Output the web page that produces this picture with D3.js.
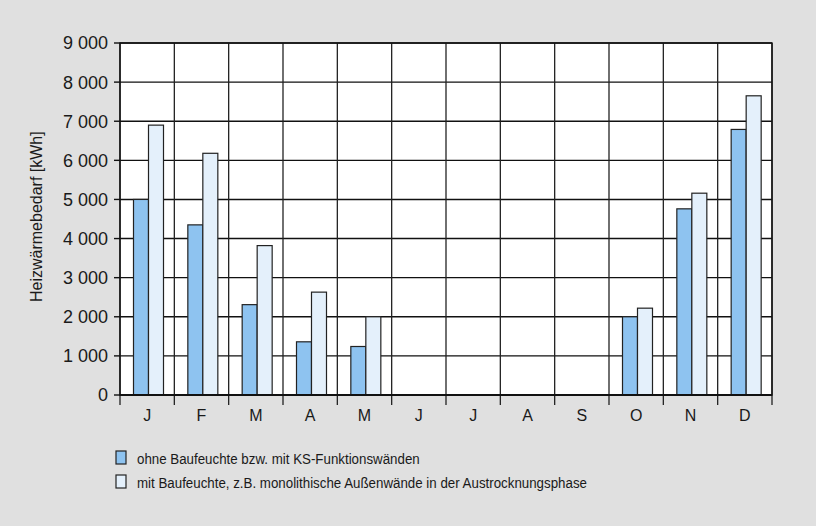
<!DOCTYPE html>
<html>
<head>
<meta charset="utf-8">
<script src="https://cdn.jsdelivr.net/npm/d3@7"></script>
<style>
  body { margin: 0; background: #e0e0e0; }
  text { font-family: "Liberation Sans", Arial, sans-serif; fill: #1a1a1a; }
</style>
</head>
<body>
<div id="chart"></div>
<script>
// Data
const months = ["J", "F", "M", "A", "M", "J", "J", "A", "S", "O", "N", "D"];
const ohneBaufeuchte = [5000, 4350, 2310, 1360, 1240, 0, 0, 0, 0, 2000, 4760, 6790];
const mitBaufeuchte = [6900, 6180, 3820, 2630, 2000, 0, 0, 0, 0, 2220, 5160, 7650];
const yTicks = [0, 1000, 2000, 3000, 4000, 5000, 6000, 7000, 8000, 9000];
const seriesNames = [
  "ohne Baufeuchte bzw. mit KS-Funktionswänden",
  "mit Baufeuchte, z.B. monolithische Außenwände in der Austrocknungsphase"
];
const colors = ["#8ec3f0", "#e4f0fb"];

const width = 816, height = 526;
const margin = { top: 43, right: 44, bottom: 131, left: 120 };
const plotW = width - margin.left - margin.right;
const plotH = height - margin.top - margin.bottom;

const svg = d3.select("#chart").append("svg")
  .attr("width", width)
  .attr("height", height);

svg.append("rect")
  .attr("width", width)
  .attr("height", height)
  .attr("fill", "#e0e0e0");

const g = svg.append("g")
  .attr("transform", "translate(" + margin.left + "," + margin.top + ")");

// Scales
const x = d3.scaleBand()
  .domain(d3.range(months.length))
  .range([0, plotW])
  .padding(0);

const y = d3.scaleLinear()
  .domain([0, 9000])
  .range([plotH, 0]);

const inner = d3.scaleBand()
  .domain([0, 1])
  .range([13.5, 43.5]);

// Plot background
g.append("rect")
  .attr("width", plotW)
  .attr("height", plotH)
  .attr("fill", "#fff");

// Horizontal grid
g.selectAll(".hgrid")
  .data(yTicks)
  .enter().append("line")
  .attr("x1", 0)
  .attr("x2", plotW)
  .attr("y1", d => y(d))
  .attr("y2", d => y(d))
  .attr("stroke", "#111")
  .attr("stroke-width", 1.4);

// Vertical grid at month boundaries
const bounds = d3.range(months.length + 1);
g.selectAll(".vgrid")
  .data(bounds)
  .enter().append("line")
  .attr("x1", d => d === months.length ? plotW : x(d))
  .attr("x2", d => d === months.length ? plotW : x(d))
  .attr("y1", 0)
  .attr("y2", plotH + 10)
  .attr("stroke", "#222")
  .attr("stroke-width", 1.3);

// Bars
const data = months.map((m, i) => ({ i: i, vals: [ohneBaufeuchte[i], mitBaufeuchte[i]] }));

const groups = g.selectAll(".month")
  .data(data)
  .enter().append("g")
  .attr("transform", d => "translate(" + x(d.i) + ",0)");

groups.selectAll("rect")
  .data(d => d.vals.map((v, k) => ({ k: k, v: v })).filter(e => e.v > 0))
  .enter().append("rect")
  .attr("x", d => inner(d.k))
  .attr("width", inner.bandwidth())
  .attr("y", d => y(d.v))
  .attr("height", d => plotH - y(d.v))
  .attr("fill", d => colors[d.k])
  .attr("stroke", "#222")
  .attr("stroke-width", 1.2);

// Frame
g.append("rect")
  .attr("width", plotW)
  .attr("height", plotH)
  .attr("fill", "none")
  .attr("stroke", "#111")
  .attr("stroke-width", 1.4);

g.append("line")
  .attr("x1", 0).attr("x2", plotW)
  .attr("y1", plotH).attr("y2", plotH)
  .attr("stroke", "#111")
  .attr("stroke-width", 2);

// Y tick marks and labels
const fmt = d => d3.format(",")(d).replace(",", " ");
g.selectAll(".ytick")
  .data(yTicks)
  .enter().append("line")
  .attr("x1", -6).attr("x2", 0)
  .attr("y1", d => y(d)).attr("y2", d => y(d))
  .attr("stroke", "#111")
  .attr("stroke-width", 1.4);

g.selectAll(".ylabel")
  .data(yTicks)
  .enter().append("text")
  .attr("x", -12)
  .attr("y", d => y(d))
  .attr("dy", "0.36em")
  .attr("text-anchor", "end")
  .style("font-size", "18px")
  .text(fmt);

// Month labels
g.selectAll(".xlabel")
  .data(data)
  .enter().append("text")
  .attr("x", d => x(d.i) + x.bandwidth() / 2)
  .attr("y", plotH + 26)
  .attr("text-anchor", "middle")
  .style("font-size", "16px")
  .text(d => months[d.i]);

// Y axis title
svg.append("text")
  .attr("transform", "translate(42,302) rotate(-90)")
  .attr("text-anchor", "start")
  .style("font-size", "16px")
  .text("Heizwärmebedarf [kWh]");

// Legend
const legend = svg.selectAll(".legend")
  .data(seriesNames)
  .enter().append("g")
  .attr("transform", (d, i) => "translate(116," + (451 + i * 24) + ")");

legend.append("rect")
  .attr("width", 10)
  .attr("height", 13)
  .attr("fill", (d, i) => colors[i])
  .attr("stroke", "#222")
  .attr("stroke-width", 1.2);

legend.append("text")
  .attr("transform", "translate(21,13) scale(0.86,1)")
  .style("font-size", "15.5px")
  .text(d => d);
</script>
</body>
</html>
